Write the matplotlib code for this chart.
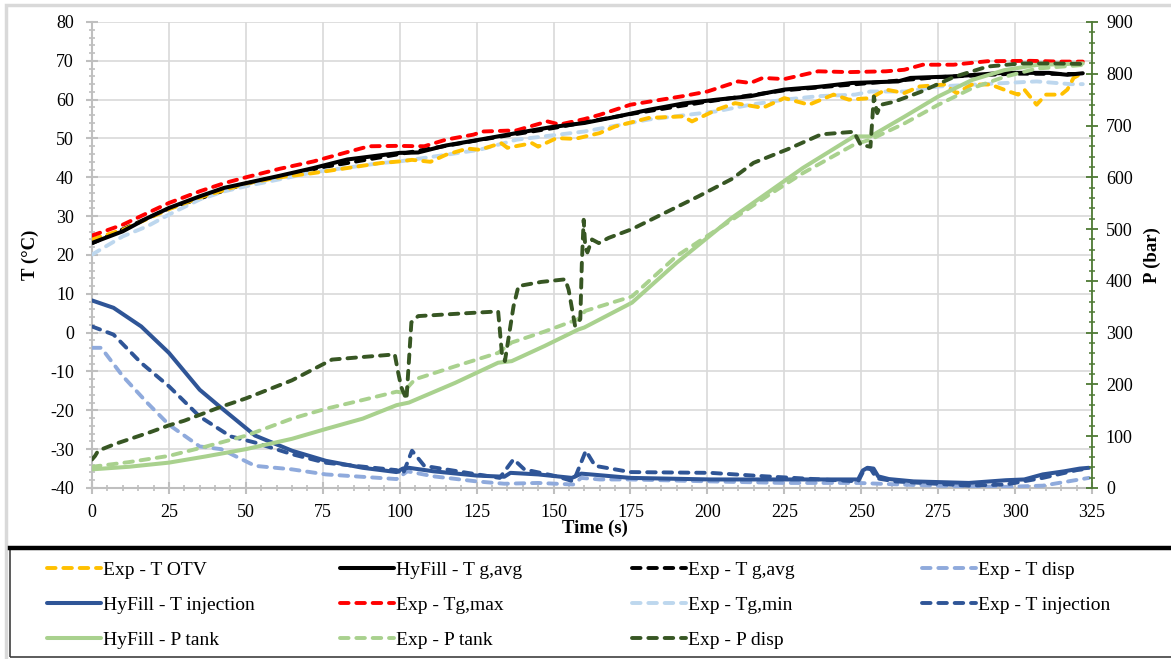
import matplotlib
matplotlib.use("Agg")
import matplotlib.pyplot as plt
from matplotlib.patches import Rectangle
from matplotlib.lines import Line2D
from matplotlib.ticker import MultipleLocator

plt.rcParams["font.family"] = ["Liberation Serif", "DejaVu Serif"]
plt.rcParams["axes.unicode_minus"] = False

# --- temperatures (°C) ---
t_otv = [0, 10, 18, 25, 35, 50, 61, 72, 83, 94, 100, 104, 110, 115, 122, 126, 133, 135, 143, 145,
         151, 157, 165, 170, 181, 192, 195, 203, 209, 218, 225, 233, 241, 246, 253, 258, 264, 269,
         277, 281, 286, 292, 298, 301, 303, 307, 310, 315, 317, 319, 322]
T_otv = [24.1, 26.5, 29.3, 31.8, 34.8, 38.4, 40.0, 41.1, 42.4, 43.7, 44.1, 44.5, 44.0, 45.8, 47.4, 47.1,
         48.8, 47.6, 48.8, 47.9, 50.1, 49.9, 51.4, 53.1, 55.3, 55.7, 54.4, 57.4, 59.1, 57.9, 60.4, 58.7,
         61.3, 60.0, 60.4, 62.6, 61.7, 63.4, 63.9, 61.7, 63.9, 63.9, 62.1, 61.3, 62.6, 58.7, 61.3, 61.3,
         62.6, 65.6, 66.9]

t_tg_hy = [0, 10, 18, 25, 35, 43, 50, 61, 72, 83, 100, 106, 115, 126, 138, 149, 160, 171, 181, 192,
           203, 214, 219, 225, 236, 247, 262, 266, 280, 296, 311, 317, 322]
T_tg_hy = [23.1, 26.1, 29.5, 32.1, 35.1, 37.3, 38.5, 40.4, 42.4, 44.6, 46.3, 46.4, 48.2, 49.7, 51.4,
           52.9, 54.0, 55.7, 57.4, 59.0, 60.0, 60.9, 61.7, 62.6, 63.3, 64.3, 64.7, 65.6, 66.0, 66.9,
           66.9, 66.4, 66.8]

t_tg_exp = [0, 25, 50, 75, 100, 125, 150, 175, 200, 225, 250, 275, 300, 322]
T_tg_exp = [23.0, 32.0, 38.4, 42.6, 46.0, 49.5, 52.7, 56.3, 59.5, 62.4, 64.1, 65.8, 66.7, 66.6]

t_disp = [0, 3, 10, 18, 25, 35, 42, 53, 65, 76, 99, 102.5, 111, 125, 134, 145, 156.5, 159, 165, 175,
          201, 225, 249, 273, 297, 309, 321, 324]
T_disp = [-3.9, -3.9, -11.2, -18.1, -23.7, -29.3, -30.0, -34.3, -35.2, -36.5, -37.7, -35.7, -37.0,
          -38.3, -38.9, -38.7, -39.1, -37.4, -37.8, -37.8, -38.3, -38.7, -38.7, -39.4, -39.7, -39.4,
          -37.8, -37.4]

t_inj_hy = [0, 7, 16, 25, 35, 41, 53, 65, 76, 88, 99, 101, 103, 111, 125, 134, 136, 145, 156, 159,
            162, 175, 201, 249, 250.5, 252, 254, 255.5, 259, 267, 285, 297, 303, 309, 316, 321, 324]
T_inj_hy = [8.3, 6.4, 1.6, -5.2, -14.7, -18.7, -26.5, -30.4, -33.0, -34.8, -35.9, -35.0, -34.8, -35.7,
            -36.8, -37.1, -36.1, -36.5, -37.4, -36.3, -36.5, -37.4, -37.8, -37.8, -35.5, -34.8, -35.0,
            -37.0, -37.7, -38.3, -38.7, -38.0, -37.8, -36.5, -35.7, -35.0, -34.8]

t_max = [0, 10, 18, 25, 35, 43, 50, 61, 72, 83, 90, 99, 108, 115, 124, 127, 138, 148, 152, 160, 165,
         175, 192, 200, 210, 214, 218, 225, 236, 246, 258, 264, 270, 280, 291, 305, 315, 322]
T_max = [25.0, 27.8, 30.8, 33.4, 36.4, 38.5, 40.0, 42.2, 44.1, 46.5, 48.0, 48.1, 48.0, 49.7, 51.0,
         51.8, 52.1, 54.4, 53.6, 55.0, 56.1, 58.7, 60.9, 62.1, 64.7, 64.3, 65.6, 65.3, 67.3, 67.1,
         67.3, 67.7, 69.0, 69.0, 69.9, 70.0, 69.8, 69.8]

t_min = [0, 10, 18, 25, 35, 43, 50, 72, 94, 100, 115, 126, 138, 160, 181, 203, 214, 225, 236, 248,
         253, 264, 275, 297, 307, 318, 322]
T_min = [20.1, 24.8, 27.4, 30.4, 34.3, 36.4, 37.7, 41.3, 43.7, 44.1, 45.8, 47.1, 49.7, 51.8, 54.9,
         57.0, 58.7, 60.0, 60.9, 61.3, 62.1, 62.1, 63.4, 64.3, 64.7, 64.0, 64.0]

t_inj_exp = [0, 7, 16, 25, 35, 45, 53, 65, 76, 88, 99, 101, 104, 108, 122, 132.5, 137, 140.5, 151,
             156.5, 160.5, 163.5, 175, 201, 219, 237, 249, 251, 253, 255, 261, 285, 297, 309, 320, 324]
T_inj_exp = [1.6, -0.5, -7.8, -13.8, -21.6, -26.7, -28.3, -31.3, -33.5, -34.5, -35.4, -36.5, -30.4,
             -34.3, -36.1, -37.4, -32.6, -35.2, -37.0, -38.3, -30.4, -34.3, -35.9, -36.1, -37.0, -37.8,
             -38.3, -35.2, -35.0, -37.5, -38.3, -39.4, -39.1, -37.4, -35.4, -35.0]

# --- pressures (bar) ---
t_ptank_hy = [0, 12, 25, 37, 50, 65, 76, 88, 99, 103, 118, 132, 136.4, 147, 158, 160, 175.5, 190, 208,
              220, 231, 247.6, 253, 264, 275, 286, 296.5, 307, 322]
P_ptank_hy = [36, 41, 49, 61, 75, 95, 114, 134, 160, 165, 203, 242, 245, 274, 306, 310, 358, 435, 522,
              572, 618, 679, 679, 717, 756, 788, 807, 817, 820]

t_ptank_exp = [0, 12, 25, 37, 50, 65, 76, 88, 99, 101, 105, 118, 132, 136.4, 147, 158, 160.3, 175.5,
               190, 208, 220, 231, 247.6, 253, 264, 275, 286, 296.5, 307, 322]
P_ptank_exp = [41, 50, 62, 80, 101, 134, 153, 170, 186, 184, 210, 235, 261, 281, 302, 326, 342, 370,
               448, 518, 566, 608, 663, 673, 704, 740, 772, 794, 810, 817]

t_pdisp = [0, 1, 2, 7.5, 19, 25, 30, 42, 50, 65, 78, 88, 98.4, 99.5, 100.5, 102.2, 103.8, 106, 120, 132,
           133.2, 134.2, 137, 138.6, 146, 153.8, 154.9, 157, 158.7, 159.2, 159.8, 160.3, 161, 162.5,
           164.7, 167.9, 175.5, 186.4, 197, 208, 215, 226, 237, 247.6, 249.8, 253, 254.1, 255.2, 256.3,
           260.7, 269.3, 280.2, 291.1, 302, 312, 322]
P_pdisp = [55, 62, 72, 85, 108, 121, 130, 157, 173, 208, 248, 253, 258, 223, 195, 171, 320, 332, 337,
           341, 261, 245, 351, 390, 398, 403, 383, 313, 326, 435, 518, 467, 455, 480, 473, 483, 500, 532,
           563, 597, 628, 654, 683, 688, 663, 659, 756, 724, 740, 746, 765, 794, 814, 820, 820, 819]

W, H = 1171, 659
fig = plt.figure(figsize=(W / 100, H / 100), dpi=100)

# outer frame and legend box
fig.patches.append(Rectangle((6 / W, -0.1), 1.2, 1 - 5 / H + 0.1, transform=fig.transFigure,
                             fill=False, ec="#D9D9D9", lw=2.5))
fig.patches.append(Rectangle((10 / W, 2 / H), 1.2, (659 - 548 - 2) / H, transform=fig.transFigure,
                             fill=False, ec="#404040", lw=1.2))
fig.lines.append(Line2D([10 / W, 1.0], [1 - 548 / H] * 2, transform=fig.transFigure,
                        color="black", lw=3.2))

ax = fig.add_axes([92 / W, 1 - 488 / H, 1000 / W, 466 / H])
ax2 = ax.twinx()

DASH = (2.2, 2.0)
GREY = "#BFBFBF"
DKGREEN = "#4E7A34"


def dline(a, x, y, c, label, z=2):
    ln, = a.plot(x, y, color=c, lw=2.8, dashes=DASH, dash_capstyle="round", label=label, zorder=z)
    return ln


def sline(a, x, y, c, label, z=2):
    ln, = a.plot(x, y, color=c, lw=2.9, solid_capstyle="round", label=label, zorder=z)
    return ln


h_tg_exp = dline(ax, t_tg_exp, T_tg_exp, "black", "Exp - T g,avg", z=2)
h_min = dline(ax, t_min, T_min, "#BDD7EE", "Exp - Tg,min", z=3)
h_otv = dline(ax, t_otv, T_otv, "#FFC000", "Exp - T OTV", z=3)
h_max = dline(ax, t_max, T_max, "#FF0000", "Exp - Tg,max", z=3)
h_tg_hy = sline(ax, t_tg_hy, T_tg_hy, "black", "HyFill - T g,avg", z=4)
h_disp = dline(ax, t_disp, T_disp, "#8FAADC", "Exp - T disp", z=3)
h_inj_exp = dline(ax, t_inj_exp, T_inj_exp, "#2F5597", "Exp - T injection", z=3)
h_inj_hy = sline(ax, t_inj_hy, T_inj_hy, "#2F5597", "HyFill - T injection", z=4)

h_ptank_hy = sline(ax2, t_ptank_hy, P_ptank_hy, "#A9D18E", "HyFill - P tank", z=3)
h_ptank_exp = dline(ax2, t_ptank_exp, P_ptank_exp, "#A9D18E", "Exp - P tank", z=3)
h_pdisp = dline(ax2, t_pdisp, P_pdisp, "#375623", "Exp - P disp", z=4)

ax.set_xlim(0, 325)
ax.set_ylim(-40, 80)
ax2.set_ylim(0, 900)
ax.xaxis.set_major_locator(MultipleLocator(25))
ax.xaxis.set_minor_locator(MultipleLocator(5))
ax.yaxis.set_major_locator(MultipleLocator(10))
ax.yaxis.set_minor_locator(MultipleLocator(2))
ax2.yaxis.set_major_locator(MultipleLocator(100))
ax2.yaxis.set_minor_locator(MultipleLocator(20))

ax.grid(True, which="major", color="#D9D9D9", lw=1.2, zorder=0)
ax.set_axisbelow(True)
for s in ("top", "right"):
    ax.spines[s].set_visible(False)
for s in ("top", "left", "bottom"):
    ax2.spines[s].set_visible(False)
ax.spines["left"].set_color(GREY)
ax.spines["bottom"].set_color(GREY)
ax.spines["left"].set_linewidth(1.5)
ax.spines["bottom"].set_linewidth(1.5)
ax2.spines["right"].set_color(DKGREEN)
ax2.spines["right"].set_linewidth(1.3)

fs = 13
ax.tick_params(axis="y", which="major", direction="inout", length=8, width=1.5, color=GREY,
               pad=9, labelsize=fs)
ax.tick_params(axis="y", which="minor", direction="inout", length=5, width=1.2, color=GREY)
ax.tick_params(axis="x", which="major", direction="inout", length=8, width=1.5, color=GREY,
               pad=7.5, labelsize=fs)
ax.tick_params(axis="x", which="minor", direction="inout", length=5, width=1.2, color=GREY)
ax2.tick_params(axis="y", which="major", direction="inout", length=8, width=1.3, color=DKGREEN,
                pad=6, labelsize=fs)
ax2.tick_params(axis="y", which="minor", direction="inout", length=5, width=1.1, color=DKGREEN)

fig.text(30 / W, 1 - 255 / H, "T (°C)", rotation=90, ha="center", va="center",
         fontsize=13.5, fontweight="bold")
fig.text(1152 / W, 1 - 255 / H, "P (bar)", rotation=90, ha="center", va="center",
         fontsize=13.5, fontweight="bold")
fig.text(595 / W, 1 - 528 / H, "Time (s)", ha="center", va="center",
         fontsize=13.5, fontweight="bold")

# legend: four columns, row-major order like the original
cols = [
    [h_otv, h_inj_hy, h_ptank_hy],
    [h_tg_hy, h_max, h_ptank_exp],
    [h_tg_exp, h_min, h_pdisp],
    [h_disp, h_inj_exp],
]
col_x = [47, 340, 632, 922]
for hs, x0 in zip(cols, col_x):
    fig.legend(handles=hs, loc="upper left", bbox_to_anchor=(x0 / W, 1 - 561 / H),
               frameon=False, fontsize=14, handlelength=2.8, handletextpad=0.1,
               labelspacing=0.9, borderpad=0, borderaxespad=0)

fig.savefig("out.png", dpi=100)
